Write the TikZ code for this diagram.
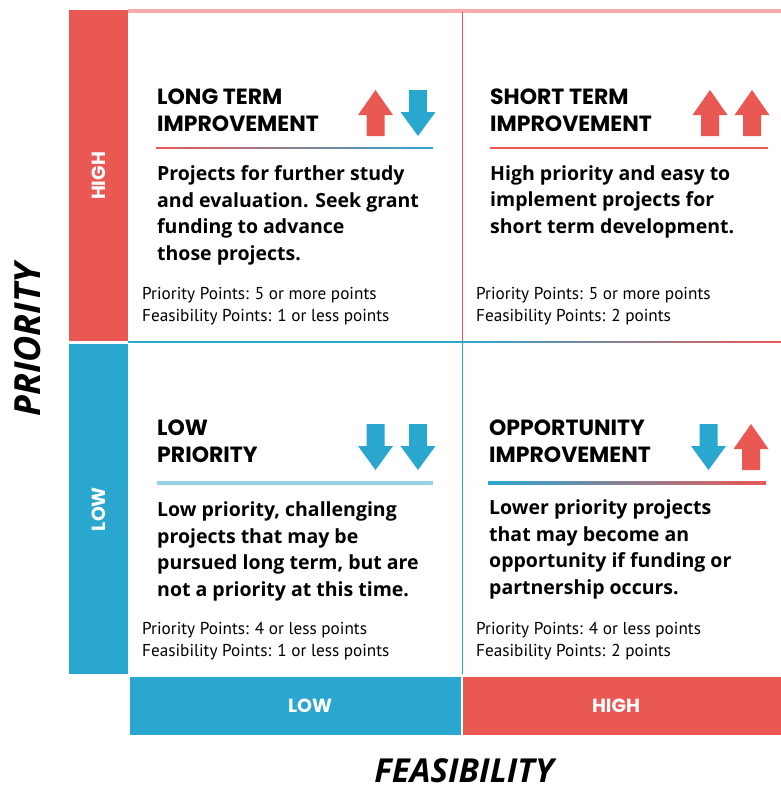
\documentclass[tikz,border=0pt]{standalone}
\usepackage{fontspec}
\setmainfont{Open Sans}
\newfontfamily\headfont{Poppins}
\newfontfamily\bodyfont{Open Sans}
\newfontfamily\smallfont{PT Sans}
\usetikzlibrary{positioning}

\definecolor{hired}{RGB}{234,88,84}
\definecolor{loblue}{RGB}{42,167,207}
\definecolor{pinkline}{RGB}{246,170,170}
\definecolor{paleblue}{RGB}{150,210,230}

\tikzset{
  bar/.style={inner sep=0pt, text=white, font=\headfont\fontsize{19}{22}\selectfont\bfseries},
  axislabel/.style={inner sep=0pt, font=\rmfamily\fontsize{33}{35}\selectfont\bfseries\itshape},
  quadtitle/.style={anchor=base west, inner sep=0pt, align=left,
    font=\headfont\fontsize{22}{26.5}\selectfont\bfseries},
  quadbody/.style={anchor=base west, inner sep=0pt, align=left,
    font=\bodyfont\fontsize{19.5}{26.4}\selectfont\bfseries},
  quadpoints/.style={anchor=base west, inner sep=0pt, align=left,
    font=\smallfont\fontsize{17.2}{21.5}\selectfont},
  uparrow/.pic={
    \fill[hired] (0,0) -- (17.5,25) -- (9,25) -- (9,46) -- (-9,46)
      -- (-9,25) -- (-17.5,25) -- cycle;
  },
  downarrow/.pic={
    \fill[loblue] (-9,0) -- (9,0) -- (9,22) -- (17.5,22) -- (0,46)
      -- (-17.5,22) -- (-9,22) -- cycle;
  }
}

\begin{document}
\begin{tikzpicture}[x=1pt, y=-1pt]
    \useasboundingbox (0,0) rectangle (781,788);
    % Side and bottom bars
    \fill[hired] (69,10) rectangle (128,341);
    \fill[loblue] (69,344) rectangle (128,674);
    \fill[loblue] (130,677) rectangle (461,735);
    \fill[hired] (463,677) rectangle (781,735);
    \node[bar, rotate=90] (barhigh) at (98.5,176) {HIGH};
    \node[bar, rotate=90] (barlow) at (98.5,509) {LOW};
    \node[bar] (feaslow) at (310,706) {LOW};
    \node[bar] (feashigh) at (616,706) {HIGH};
    % Axis labels
    \node[axislabel, rotate=90, font=\rmfamily\fontsize{36}{38}\selectfont\bfseries\itshape] (priority) at (28,340) {PRIORITY};
    \node[axislabel] (feasibility) at (464,771) {FEASIBILITY};
    % Grid lines
    \fill[pinkline] (128,9) rectangle (781,12.5);
    \draw[hired, line width=1.3pt] (462.5,12) -- (462.5,341);
    \draw[loblue, line width=1.3pt] (462.5,341) -- (462.5,674);
    \draw[loblue, line width=1.3pt] (128,342) -- (462.5,342);
    \shade[left color=loblue, right color=hired] (462.5,341.3) rectangle (781,342.7);
    % Long term improvement
    \node[quadtitle] (lttitle) at (157,131) {LONG TERM\\IMPROVEMENT};
    \pic at (375.5,90) {uparrow};
    \pic at (418,90) {downarrow};
    \shade[left color=hired, right color=loblue] (156,147.2) rectangle (433,148.8);
    \node[quadbody] (ltbody) at (157,260) {Projects for further study\\and evaluation. Seek grant\\funding to advance\\those projects.};
    \node[quadpoints] (ltpoints) at (142,321) {Priority Points: 5 or more points\\Feasibility Points: 1 or less points};
    % Short term improvement
    \node[quadtitle] (sttitle) at (490,131) {SHORT TERM\\IMPROVEMENT};
    \pic at (710,90) {uparrow};
    \pic at (752,90) {uparrow};
    \fill[hired] (490,147.2) rectangle (768,148.8);
    \node[quadbody] (stbody) at (490,233) {High priority and easy to\\implement projects for\\short term development.};
    \node[quadpoints] (stpoints) at (476,321) {Priority Points: 5 or more points\\Feasibility Points: 2 points};
    % Low priority
    \node[quadtitle] (lptitle) at (157,462) {LOW\\PRIORITY};
    \pic at (375.5,424) {downarrow};
    \pic at (418,424) {downarrow};
    \fill[paleblue] (157,481) rectangle (433,485);
    \node[quadbody] (lpbody) at (157,596) {Low priority, challenging\\projects that may be\\pursued long term, but are\\not a priority at this time.};
    \node[quadpoints] (lppoints) at (142,656) {Priority Points: 4 or less points\\Feasibility Points: 1 or less points};
    % Opportunity improvement
    \node[quadtitle] (optitle) at (489,462) {OPPORTUNITY\\IMPROVEMENT};
    \pic at (708.5,424) {downarrow};
    \pic at (751,424) {uparrow};
    \shade[left color=loblue, right color=hired] (488,481.5) rectangle (766,484);
    \node[quadbody] (opbody) at (489,594) {Lower priority projects\\that may become an\\opportunity if funding or\\partnership occurs.};
    \node[quadpoints] (oppoints) at (476,656) {Priority Points: 4 or less points\\Feasibility Points: 2 points};
\end{tikzpicture}
\end{document}
